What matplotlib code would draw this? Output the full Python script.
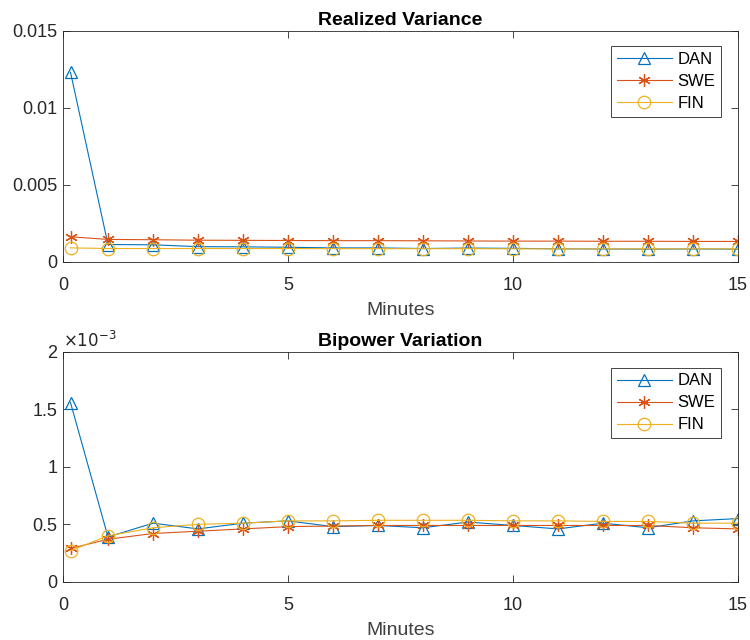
import numpy as np
import matplotlib.pyplot as plt
from matplotlib.ticker import FuncFormatter

plt.rcParams['font.family'] = ['Liberation Sans', 'DejaVu Sans']

minutes = [1/6, 1, 2, 3, 4, 5, 6, 7, 8, 9, 10, 11, 12, 13, 14, 15]

# Realized variance
rv_dan = [0.0123, 0.00112, 0.00110, 0.00098, 0.00097, 0.00094, 0.00090, 0.00090,
          0.00086, 0.00089, 0.00087, 0.00084, 0.00083, 0.00082, 0.00083, 0.00082]
rv_swe = [0.00162, 0.00145, 0.00143, 0.00140, 0.00139, 0.00138, 0.00137, 0.00137,
          0.00136, 0.00135, 0.00134, 0.00134, 0.00133, 0.00133, 0.00132, 0.00132]
rv_fin = [0.00090, 0.00086, 0.00086, 0.00086, 0.00086, 0.00086, 0.00085, 0.00085,
          0.00085, 0.00085, 0.00084, 0.00084, 0.00084, 0.00084, 0.00084, 0.00084]

# Bipower variation
bv_dan = [1.56e-3, 0.39e-3, 0.51e-3, 0.46e-3, 0.51e-3, 0.53e-3, 0.48e-3, 0.49e-3,
          0.47e-3, 0.52e-3, 0.49e-3, 0.46e-3, 0.51e-3, 0.47e-3, 0.53e-3, 0.55e-3]
bv_swe = [0.29e-3, 0.37e-3, 0.42e-3, 0.44e-3, 0.46e-3, 0.48e-3, 0.485e-3, 0.49e-3,
          0.49e-3, 0.49e-3, 0.49e-3, 0.49e-3, 0.49e-3, 0.49e-3, 0.47e-3, 0.46e-3]
bv_fin = [0.27e-3, 0.40e-3, 0.47e-3, 0.50e-3, 0.51e-3, 0.53e-3, 0.53e-3, 0.535e-3,
          0.535e-3, 0.535e-3, 0.53e-3, 0.53e-3, 0.525e-3, 0.525e-3, 0.51e-3, 0.51e-3]

labels = ['DAN', 'SWE', 'FIN']
colors = ['#0072BD', '#D95319', '#EDB120']
markers = ['^', (6, 2, 0), 'o']

fig = plt.figure(figsize=(7.5, 6.4), dpi=100)
ax1 = fig.add_axes([0.084, 0.591, 0.900, 0.361])
ax2 = fig.add_axes([0.084, 0.091, 0.900, 0.359])

def style(ax):
    ax.set_xlim(0, 15)
    ax.set_xticks([0, 5, 10, 15])
    ax.tick_params(direction='in', top=True, right=True, labelsize=13,
                   colors='#262626', length=5, width=0.6)
    ax.tick_params(axis='x', pad=11)
    ax.tick_params(axis='y', pad=4)
    for s in ax.spines.values():
        s.set_color('#262626')
        s.set_linewidth(0.6)
    ax.set_xlabel('Minutes', fontsize=14, color='#404040', labelpad=6)
    leg = ax.legend(loc='upper right', bbox_to_anchor=(0.975, 0.932), fontsize=12,
                    handlelength=3.3, handletextpad=0.35, borderaxespad=0,
                    fancybox=False, framealpha=1, edgecolor='#262626',
                    borderpad=0.35, labelspacing=0.42)
    leg.get_frame().set_linewidth(0.6)

for ys, lab, c, m in zip([rv_dan, rv_swe, rv_fin], labels, colors, markers):
    ax1.plot(minutes, ys, color=c, marker=m, markersize=9, markerfacecolor='none',
             markeredgewidth=0.9, lw=0.8, label=lab)
ax1.set_ylim(0, 0.015)
ax1.set_yticks([0, 0.005, 0.01, 0.015])
ax1.yaxis.set_major_formatter(FuncFormatter(lambda v, p: f'{v:g}'))
ax1.set_title('Realized Variance', fontsize=14, fontweight='bold', pad=4)
style(ax1)

for ys, lab, c, m in zip([bv_dan, bv_swe, bv_fin], labels, colors, markers):
    ax2.plot(minutes, ys, color=c, marker=m, markersize=9, markerfacecolor='none',
             markeredgewidth=0.9, lw=0.8, label=lab)
ax2.set_ylim(0, 2e-3)
ax2.set_yticks([0, 0.5e-3, 1e-3, 1.5e-3, 2e-3])
ax2.yaxis.set_major_formatter(FuncFormatter(lambda v, p: f'{v * 1e3:g}'))
ax2.text(0.0, 1.01, r'$\times10^{-3}$', transform=ax2.transAxes, fontsize=12,
         color='#262626', ha='left', va='bottom')
ax2.set_title('Bipower Variation', fontsize=14, fontweight='bold', pad=4)
style(ax2)

fig.savefig('out.png', dpi=100)
